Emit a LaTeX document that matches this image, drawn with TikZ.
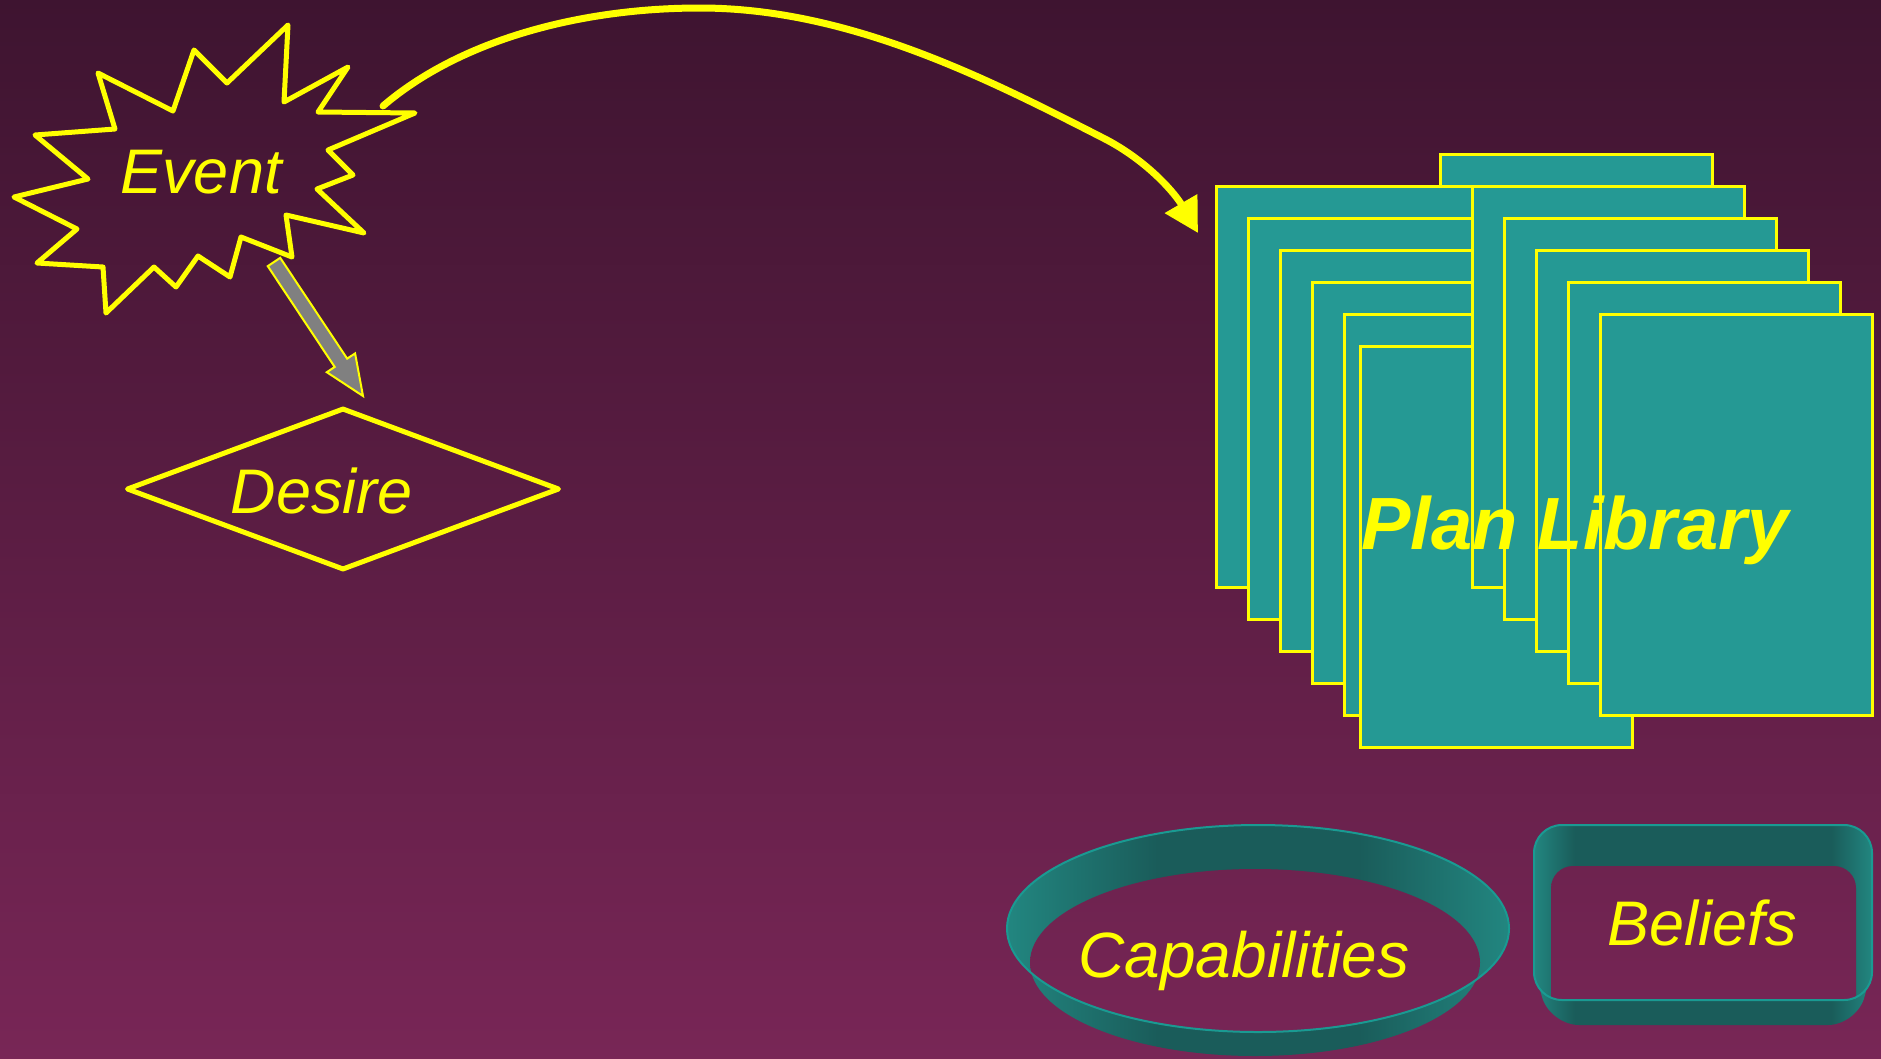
\documentclass[tikz,border=0pt]{standalone}
\usepackage{fontspec}
\setmainfont{Liberation Sans}
\usetikzlibrary{arrows.meta,calc,shapes.geometric}

\definecolor{bgtop}{RGB}{62,20,48}
\definecolor{bgbot}{RGB}{120,38,86}
\definecolor{ylw}{RGB}{255,255,0}
\definecolor{plancol}{RGB}{37,153,148}
\definecolor{tealD}{RGB}{26,92,90}
\definecolor{tealL}{RGB}{34,134,128}
\definecolor{rimcol}{RGB}{26,154,146}
\definecolor{arrgray}{RGB}{128,128,128}

\pgfdeclarehorizontalshading{capwall}{100bp}{color(0bp)=(tealL); color(25bp)=(tealL); color(40bp)=(tealD); color(60bp)=(tealD); color(75bp)=(tealL); color(100bp)=(tealL)}
\pgfdeclarehorizontalshading{belwall}{100bp}{color(0bp)=(tealL); color(25bp)=(tealL); color(31bp)=(tealD); color(69bp)=(tealD); color(75bp)=(tealL); color(100bp)=(tealL)}

\begin{document}
\begin{tikzpicture}[x=1pt,y=-1pt,
  lbltxt/.style={font=\fontsize{63}{70}\selectfont\itshape, text=ylw, inner sep=0pt, anchor=base},
  starline/.style={draw=ylw, line width=5pt, line join=round},
  diamondbox/.style={draw=ylw, line width=5pt, line join=round, diamond, inner sep=0pt,
                     minimum width=433pt, minimum height=162pt},
  blockarrow/.style={fill=arrgray, draw=ylw, line width=2pt, line join=miter},
  curvearrow/.style={draw=ylw, line width=7pt, line cap=round, -{Triangle[length=34pt,width=36pt]}},
  planpage/.style={draw=ylw, fill=plancol, line width=2.5pt, rectangle, inner sep=0pt,
                   minimum width=272pt, minimum height=401pt, anchor=north west},
  rimline/.style={draw=rimcol, line width=2pt},
  bgshade/.style={top color=bgtop, bottom color=bgbot}
]
\useasboundingbox (0,0) rectangle (1881,1058);
\shade[bgshade] (0,0) rectangle (1881,1058);

% ---------- Event star ----------
\draw[starline] (288,25) -- (284,102) -- (348,67) -- (318,112) -- (415,113) -- (328,150)
  -- (353,175) -- (317,189) -- (364,233) -- (286,215) -- (292,257) -- (241,237)
  -- (230,277) -- (198,256) -- (176,287) -- (154,267) -- (106,313) -- (103,267)
  -- (37,263) -- (77,229) -- (14,197) -- (88,179) -- (35,135) -- (115,129)
  -- (98,73) -- (173,111) -- (194,50) -- (227,83) -- cycle;
\node[lbltxt] (event) at (201,193) {Event};

% ---------- Desire ----------
\node[diamondbox] (desire) at (343,489) {};
\node[lbltxt] (desiretxt) at (322,513) {Desire};

% ---------- gray block arrow Event -> Desire ----------
\coordinate (ga1) at (274,262);
\coordinate (ga2) at (363,396);
\coordinate (gh) at ($(ga1)!121pt!(ga2)$);
\filldraw[blockarrow] ($(ga1)!7.5pt!90:(ga2)$) -- ($(gh)!7.5pt!90:(ga2)$) -- ($(gh)!17pt!90:(ga2)$)
  -- (ga2) -- ($(gh)!17pt!-90:(ga2)$) -- ($(gh)!7.5pt!-90:(ga2)$) -- ($(ga1)!7.5pt!-90:(ga2)$) -- cycle;

% ---------- Plan library ----------
\node[planpage] (r0) at (1439,153) {};
\node[planpage] (l1) at (1215,185) {};
\node[planpage] (l2) at (1247,217) {};
\node[planpage] (l3) at (1279,249) {};
\node[planpage] (l4) at (1311,281) {};
\node[planpage] (l5) at (1343,313) {};
\node[planpage] (l6) at (1359,345) {};
\node[planpage] (r1) at (1471,185) {};
\node[planpage] (r2) at (1503,217) {};
\node[planpage] (r3) at (1535,249) {};
\node[planpage] (r4) at (1567,281) {};
\node[planpage] (r5) at (1599,313) {};
\node[font=\fontsize{74}{80}\selectfont\bfseries\itshape, text=ylw, inner sep=0pt, anchor=base]
  (plan) at (1575,549) {Plan Library};

% ---------- curved arrow Event -> Plan library ----------
\coordinate (evout) at (383,106);
\coordinate (plin) at (1198,233);
\draw[curvearrow] (evout) .. controls (460,40) and (580,8) .. (700,8)
  .. controls (850,8) and (990,80) .. (1107,140)
  .. controls (1150,163) and (1176,195) .. (plin);

% ---------- Capabilities ring ----------
\shade[shading=capwall] (1007,928.5) -- (1030,962.5)
  arc[start angle=180, end angle=0, x radius=225, y radius=93.5]
  -- (1509,928.5)
  arc[start angle=0, end angle=-180, x radius=251, y radius=103.5] -- cycle;
\shade[shading=capwall] (1258,928.5) ellipse[x radius=251, y radius=103.5];
\begin{scope}
  \clip (1258,928.5) ellipse[x radius=251, y radius=103.5];
  \clip (1255,962.5) ellipse[x radius=225, y radius=93.5];
  \shade[bgshade] (0,0) rectangle (1881,1058);
\end{scope}
\draw[rimline] (1258,928.5) ellipse[x radius=251, y radius=103.5];
\node[lbltxt, font=\fontsize{64}{70}\selectfont\itshape] (cap) at (1244,977) {Capabilities};

% ---------- Beliefs box ----------
\shade[shading=belwall, rounded corners=28pt] (1534,825) -- (1872,825) -- (1872,972)
  -- (1856,1025) -- (1551,1025) -- (1534,972) -- cycle;
\shade[shading=belwall, rounded corners=28pt] (1534,825) rectangle (1872,1000);
\begin{scope}
  \clip[rounded corners=28pt] (1534,825) rectangle (1872,1000);
  \clip[rounded corners=22pt] (1551,866) rectangle (1856,1080);
  \shade[bgshade] (0,0) rectangle (1881,1058);
\end{scope}
\draw[rimline, rounded corners=28pt] (1534,825) rectangle (1872,1000);
\node[lbltxt] (bel) at (1702,945) {Beliefs};
\end{tikzpicture}
\end{document}
